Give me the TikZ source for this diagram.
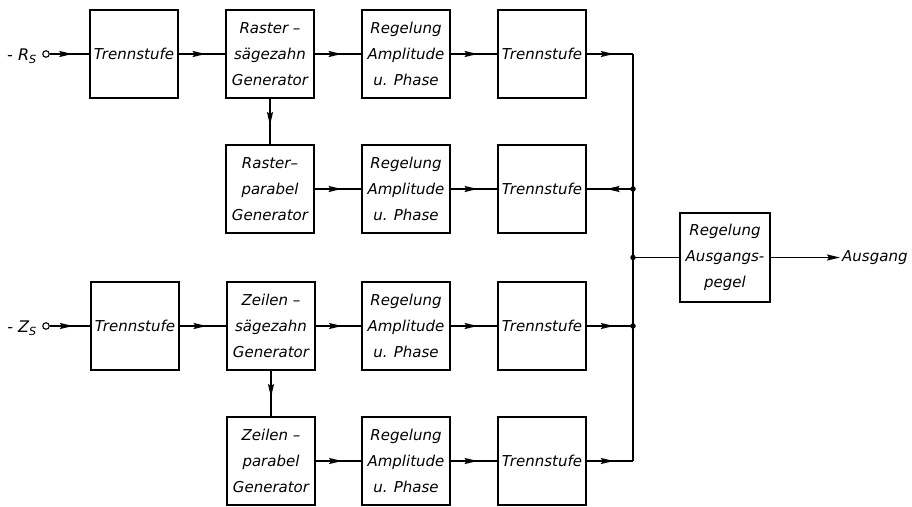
\documentclass[tikz,border=0pt]{standalone}
\usepackage{fontspec}
\setmainfont{DejaVu Sans}
\usetikzlibrary{arrows.meta,decorations.markings}
\begin{document}
\begin{tikzpicture}[x=1pt,y=-1pt,
  lbl/.style={font=\fontsize{15}{26}\selectfont\itshape, inner sep=0pt},
  box/.style={draw, line width=2.7pt, minimum width=88pt, minimum height=88pt, inner sep=0pt, align=center, font=\fontsize{15}{26}\selectfont\itshape},
  conn/.style={line width=1.7pt},
  midarrow/.style={conn, postaction={decorate}, decoration={markings, mark=at position 0.58 with {\arrow{Stealth[length=13pt,width=6pt,inset=2pt]}}}},
  endarrow/.style={conn, -{Stealth[length=13pt,width=6pt,inset=2pt]}},
  dot/.style={circle, fill, inner sep=0pt, minimum size=5.5pt},
  term/.style={circle, draw, line width=1.1pt, inner sep=0pt, minimum size=6.5pt}]
\useasboundingbox (0,0) rectangle (912,506);
% row 1
\node[box] (t11) at (134,54) {Trennstufe};
\node[box] (r12) at (270,54) {Raster –\\sägezahn\\Generator};
\node[box] (a13) at (406,54) {Regelung\\Amplitude\\u. Phase};
\node[box] (t14) at (542,54) {Trennstufe};
% row 2
\node[box] (r22) at (270,189) {Raster–\\parabel\\Generator};
\node[box] (a23) at (406,189) {Regelung\\Amplitude\\u. Phase};
\node[box] (t24) at (542,189) {Trennstufe};
% row 3
\node[box] (t31) at (135,326) {Trennstufe};
\node[box] (z32) at (271,326) {Zeilen –\\sägezahn\\Generator};
\node[box] (a33) at (406,326) {Regelung\\Amplitude\\u. Phase};
\node[box] (t34) at (542,326) {Trennstufe};
% row 4
\node[box] (z42) at (271,461) {Zeilen –\\parabel\\Generator};
\node[box] (a43) at (406,461) {Regelung\\Amplitude\\u. Phase};
\node[box] (t44) at (542,461) {Trennstufe};
% output box
\node[box, minimum width=90pt, minimum height=89pt] (out) at (725,257.5) {Regelung\\Ausgangs-\\pegel};
\node[lbl, anchor=west] (ausg) at (842,257.5) {Ausgang};
\coordinate (ausgtip) at (840,257.5);
% inputs
\node[term] (c1) at (46,54) {};
\node[lbl, anchor=east, font=\fontsize{16}{26}\selectfont\itshape] (l1) at (37,56) {- R\textsubscript{S}};
\node[term] (c3) at (46,326) {};
\node[lbl, anchor=east, font=\fontsize{16}{26}\selectfont\itshape] (l3) at (37,328) {- Z\textsubscript{S}};
% bus
\coordinate (b1) at (633,54);
\node[dot] (b2) at (633,189) {};
\node[dot] (bm) at (633,257.5) {};
\node[dot] (b3) at (633,326) {};
\coordinate (b4) at (633,461);
% connectors
\draw[midarrow] (c1) -- (t11.west);
\draw[midarrow] (t11) -- (r12);
\draw[midarrow] (r12) -- (a13);
\draw[midarrow] (a13) -- (t14);
\draw[midarrow] (r12.south) -- (r22.north);
\draw[midarrow] (r22) -- (a23);
\draw[midarrow] (a23) -- (t24);
\draw[midarrow] (c3) -- (t31.west);
\draw[midarrow] (t31) -- (z32);
\draw[midarrow] (z32) -- (a33);
\draw[midarrow] (a33) -- (t34);
\draw[midarrow] (z32.south) -- (z42.north);
\draw[midarrow] (z42) -- (a43);
\draw[midarrow] (a43) -- (t44);
\draw[midarrow] (t14.east) -- (b1);
\draw[conn] (b1) -- (b4);
\draw[midarrow] (b2.center) -- (t24.east);
\draw[midarrow] (t34.east) -- (b3.center);
\draw[midarrow] (t44.east) -- (b4);
\draw[conn] (bm.center) -- (out.west);
\draw[endarrow] (out.east) -- (ausgtip);
\end{tikzpicture}
\end{document}
